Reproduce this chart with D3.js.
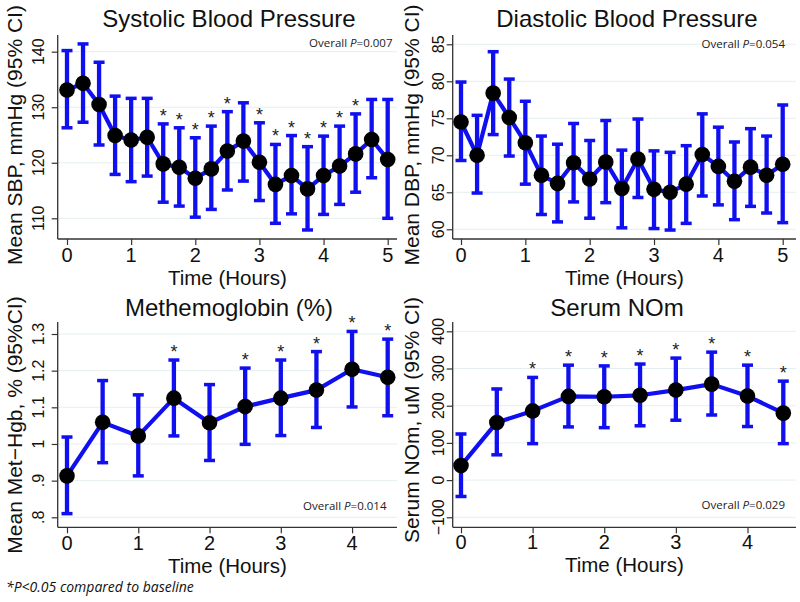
<!DOCTYPE html>
<html><head><meta charset="utf-8">
<script src="https://cdn.jsdelivr.net/npm/d3@7"></script>
<style>
html,body{margin:0;padding:0;background:#fff;}
svg{display:block;}
</style></head>
<body>
<svg id="chart" width="800" height="602"></svg>
<script>
// ---------------- DATA ----------------
const sbpHours = [0,0.25,0.5,0.75,1,1.25,1.5,1.75,2,2.25,2.5,2.75,3,3.25,3.5,3.75,4,4.25,4.5,4.75,5];
const sbpMean  = [133.1,134.3,130.5,124.9,124.1,124.6,119.8,119.2,117.2,118.9,122.1,123.9,120.1,116.1,117.7,115.3,117.7,119.4,121.6,124.2,120.6];
const sbpLower = [126.3,127.3,123.2,117.9,116.6,117.6,112.9,112.2,110.2,111.6,115.1,116.7,113.2,109.1,110.8,107.9,110.7,112.5,114.7,117.3,110.0];
const sbpUpper = [140.2,141.4,138.1,132.0,131.6,131.6,127.0,126.3,124.5,126.6,129.2,130.8,127.2,123.3,124.9,122.9,124.8,126.6,128.8,131.4,131.4];
const sbpStar  = [0,0,0,0,0,0,1,1,1,1,1,0,1,1,1,1,1,1,1,0,0];
const sbpTicks = [110,120,130,140];

const dbpHours = [0,0.25,0.5,0.75,1,1.25,1.5,1.75,2,2.25,2.5,2.75,3,3.25,3.5,3.75,4,4.25,4.5,4.75,5];
const dbpMean  = [74.5,70.0,78.4,75.1,71.7,67.3,66.2,69.0,66.8,69.1,65.5,69.5,65.4,65.0,66.1,70.1,68.5,66.5,68.4,67.3,68.8];
const dbpLower = [69.3,64.9,72.8,69.9,66.1,62.0,61.0,63.7,61.5,63.6,60.2,64.3,60.1,59.9,60.8,64.5,63.3,61.3,63.1,62.2,60.9];
const dbpUpper = [79.9,75.4,84.0,80.3,77.3,72.6,71.5,74.3,72.0,74.7,70.7,74.9,70.6,70.4,71.3,75.6,73.8,71.8,73.6,72.6,76.8];
const dbpStar  = [0,0,0,0,0,0,0,0,0,0,0,0,0,0,0,0,0,0,0,0,0];
const dbpTicks = [60,65,70,75,80,85];

const metHours = [0,0.5,1,1.5,2,2.5,3,3.5,4,4.5];
const metMean  = [0.913,1.059,1.022,1.125,1.058,1.102,1.125,1.147,1.204,1.182];
const metLower = [0.810,0.949,0.913,1.022,0.955,0.999,1.023,1.045,1.101,1.077];
const metUpper = [1.019,1.173,1.134,1.229,1.162,1.207,1.229,1.252,1.307,1.286];
const metStar  = [0,0,0,1,0,1,1,1,1,1];
const metTicks = [0.8,0.9,1.0,1.1,1.2,1.3];
const metTickLabels = [".8",".9","1","1.1","1.2","1.3"];

const nomHours = [0,0.5,1,1.5,2,2.5,3,3.5,4,4.5];
const nomMean  = [39,155,186,225,224,228,242,258,226,180];
const nomLower = [-44,68,98,143,141,146,161,175,144,98];
const nomUpper = [124,245,276,309,307,312,328,344,309,266];
const nomStar  = [0,0,1,1,1,1,1,1,1,1];
const nomTicks = [-100,0,100,200,300,400];
const nomTickLabels = ["\u2212100","0","100","200","300","400"];

const xTicksTop = [0,1,2,3,4,5];
const xTicksBottom = [0,1,2,3,4];

const titles = ["Systolic Blood Pressure","Diastolic Blood Pressure","Methemoglobin (%)","Serum NOm"];
const yTitles = ["Mean SBP, mmHg (95% CI)","Mean DBP, mmHg (95% CI)","Mean Met\u2212Hgb, % (95%CI)","Serum NOm, uM (95% CI)"];
const pValues = ["0.007","0.054","0.014","0.029"];
const xTitle = "Time (Hours)";
const footnote = "*P<0.05 compared to baseline";

// ---------------- LAYOUT ----------------
const BLUE = "#0f0ff0";
const panels = [
  {hours:sbpHours, mean:sbpMean, lower:sbpLower, upper:sbpUpper, star:sbpStar, ticks:sbpTicks, tickLabels:sbpTicks.map(String),
   xTicks:xTicksTop, xDom:[0,5], xRange:[67,387.7], left:57.7, right:397, top:35, bottom:239,
   yDom:[110,140], yRange:[218.3,51.7], title:titles[0], titleX:229, titleY:27, yTitle:yTitles[0], yTitleX:22, yTitleY:135,
   tickLabX:44, xTickY:261.5, xTitleY:285, p:pValues[0], pX:392.5, pY:47},
  {hours:dbpHours, mean:dbpMean, lower:dbpLower, upper:dbpUpper, star:dbpStar, ticks:dbpTicks, tickLabels:dbpTicks.map(String),
   xTicks:xTicksTop, xDom:[0,5], xRange:[461,782.7], left:452.7, right:796, top:35, bottom:239,
   yDom:[60,85], yRange:[229.3,44.3], title:titles[1], titleX:627, titleY:27, yTitle:yTitles[1], yTitleX:419, yTitleY:135,
   tickLabX:444, xTickY:261.5, xTitleY:285, p:pValues[1], pX:785, pY:48},
  {hours:metHours, mean:metMean, lower:metLower, upper:metUpper, star:metStar, ticks:metTicks, tickLabels:metTickLabels,
   xTicks:xTicksBottom, xDom:[0,4.5], xRange:[67,387.7], left:57.7, right:397, top:322, bottom:527.3,
   yDom:[0.8,1.3], yRange:[517.3,334], title:titles[2], titleX:229, titleY:316, yTitle:yTitles[2], yTitleX:22, yTitleY:425,
   tickLabX:44, xTickY:549.5, xTitleY:573, p:pValues[2], pX:386.5, pY:510},
  {hours:nomHours, mean:nomMean, lower:nomLower, upper:nomUpper, star:nomStar, ticks:nomTicks, tickLabels:nomTickLabels,
   xTicks:xTicksBottom, xDom:[0,4.5], xRange:[461,783.3], left:452.7, right:796, top:322, bottom:527.3,
   yDom:[-100,400], yRange:[517.3,331.3], title:titles[3], titleX:617, titleY:316, yTitle:yTitles[3], yTitleX:419, yTitleY:420,
   tickLabX:444, xTickY:548.5, xTitleY:572, p:pValues[3], pX:785, pY:509}
];

const svg = d3.select("#chart");
const SANS = "'Liberation Sans', Arial, Helvetica, sans-serif";
const NOTE = "'Open Sans', 'Noto Sans', sans-serif";

panels.forEach(p => {
  const g = svg.append("g");
  const x = d3.scaleLinear().domain(p.xDom).range(p.xRange);
  const y = d3.scaleLinear().domain(p.yDom).range(p.yRange);

  // gridlines
  g.selectAll("line.grid").data(p.ticks).enter().append("line")
    .attr("x1", p.left).attr("x2", p.right)
    .attr("y1", d => y(d)).attr("y2", d => y(d))
    .attr("stroke", "#e6eff1").attr("stroke-width", 1);

  // y axis
  const yAxis = d3.axisLeft(y).tickValues(p.ticks).tickSize(6).tickFormat("");
  const ya = g.append("g").attr("transform", `translate(${p.left},0)`).call(yAxis);
  ya.select(".domain").remove();
  ya.selectAll(".tick line").attr("stroke", "#333").attr("stroke-width", 1.2);
  g.append("line").attr("x1", p.left).attr("x2", p.left).attr("y1", p.top).attr("y2", p.bottom)
    .attr("stroke", "#333").attr("stroke-width", 1.3);
  // y tick labels (rotated)
  g.selectAll("text.ytl").data(p.ticks).enter().append("text")
    .attr("transform", (d) => `translate(${p.tickLabX},${y(d)}) rotate(-90)`)
    .attr("text-anchor", "middle")
    .attr("font-family", SANS).attr("font-size", 16).attr("fill", "#111")
    .text((d, i) => p.tickLabels[i]);

  // x axis
  const xAxis = d3.axisBottom(x).tickValues(p.xTicks).tickSize(6).tickFormat("");
  const xa = g.append("g").attr("transform", `translate(0,${p.bottom})`).call(xAxis);
  xa.select(".domain").remove();
  xa.selectAll(".tick line").attr("stroke", "#333").attr("stroke-width", 1.2);
  g.append("line").attr("x1", p.left).attr("x2", p.right).attr("y1", p.bottom).attr("y2", p.bottom)
    .attr("stroke", "#333").attr("stroke-width", 1.3);
  g.selectAll("text.xtl").data(p.xTicks).enter().append("text")
    .attr("x", d => x(d)).attr("y", p.xTickY)
    .attr("text-anchor", "middle")
    .attr("font-family", SANS).attr("font-size", 20).attr("fill", "#111")
    .text(d => String(d));

  // titles
  g.append("text").attr("x", p.titleX).attr("y", p.titleY).attr("text-anchor", "middle")
    .attr("font-family", SANS).attr("font-size", 24).attr("fill", "#111").text(p.title);
  g.append("text").attr("x", (p.left + p.right) / 2).attr("y", p.xTitleY).attr("text-anchor", "middle")
    .attr("font-family", SANS).attr("font-size", 20.5).attr("fill", "#111").text(xTitle);
  g.append("text").attr("transform", `translate(${p.yTitleX},${p.yTitleY}) rotate(-90)`)
    .attr("text-anchor", "middle")
    .attr("font-family", SANS).attr("font-size", 21).attr("fill", "#111").text(p.yTitle);

  // overall P
  const pt = g.append("text").attr("x", p.pX).attr("y", p.pY).attr("text-anchor", "end")
    .attr("font-family", NOTE).attr("font-size", 11.5).attr("fill", "#222");
  pt.append("tspan").text("Overall ");
  pt.append("tspan").attr("font-style", "italic").text("P");
  pt.append("tspan").text("=" + p.p);

  // error bars
  const idx = d3.range(p.hours.length);
  g.selectAll("line.eb").data(idx).enter().append("line")
    .attr("x1", i => x(p.hours[i])).attr("x2", i => x(p.hours[i]))
    .attr("y1", i => y(p.lower[i])).attr("y2", i => y(p.upper[i]))
    .attr("stroke", BLUE).attr("stroke-width", 4.3);
  ["lower", "upper"].forEach(k => {
    g.selectAll("line.cap" + k).data(idx).enter().append("line")
      .attr("x1", i => x(p.hours[i]) - 5.5).attr("x2", i => x(p.hours[i]) + 5.5)
      .attr("y1", i => y(p[k][i])).attr("y2", i => y(p[k][i]))
      .attr("stroke", BLUE).attr("stroke-width", 3.5);
  });

  // mean line
  const line = d3.line().x(i => x(p.hours[i])).y(i => y(p.mean[i]));
  g.append("path").datum(idx).attr("d", line).attr("fill", "none")
    .attr("stroke", BLUE).attr("stroke-width", 4.2).attr("stroke-linejoin", "round");

  // dots
  g.selectAll("circle.pt").data(idx).enter().append("circle")
    .attr("cx", i => x(p.hours[i])).attr("cy", i => y(p.mean[i])).attr("r", 7.8)
    .attr("fill", "#000");

  // stars
  g.selectAll("text.star").data(idx.filter(i => p.star[i])).enter().append("text")
    .attr("x", i => x(p.hours[i])).attr("y", i => y(p.upper[i]) - 2)
    .attr("text-anchor", "middle")
    .attr("font-family", SANS).attr("font-size", 18).attr("fill", "#222")
    .text("*");
});

svg.append("text").attr("x", 6).attr("y", 592)
  .attr("font-family", NOTE).attr("font-size", 14).attr("font-style", "italic").attr("fill", "#111")
  .text(footnote);
</script>
</body></html>
